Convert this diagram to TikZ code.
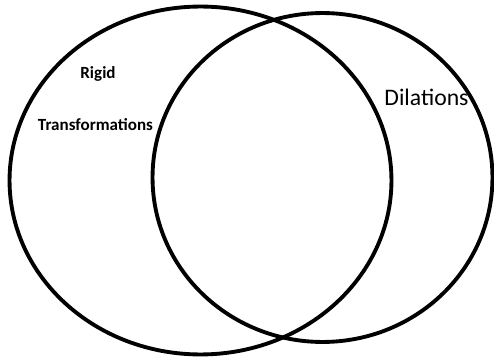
\documentclass[tikz,border=0pt]{standalone}
\usepackage{fontspec}
\setmainfont{Carlito}
\usetikzlibrary{positioning,shapes.geometric}

\begin{document}
\begin{tikzpicture}[
  x=0.02cm, y=-0.02cm,
  every node/.style={align=center},
  set/.style={draw, ellipse, line width=2.2pt, inner sep=0pt},
  small/.style={font=\fontsize{9.7}{11}\selectfont\bfseries, inner sep=1pt},
  big/.style={font=\fontsize{13.5}{15}\selectfont, inner sep=1pt}
]
\useasboundingbox (0,0) rectangle (494,358);

% --- Sets ---
\node[set, minimum width=7.64cm, minimum height=6.96cm] (rigidset) at (200.5,180.5) {};
\node[set, minimum width=6.8cm,  minimum height=6.58cm] (dilset)   at (322.5,177.5) {};

% --- Labels ---
\node[small] (rigid) at (98,74)  {Rigid};
\node[small] (trans) at (95.5,125) {Transformations};
\node[big]   (dil)   at (426.5,97) {Dilations};

\end{tikzpicture}
\end{document}
